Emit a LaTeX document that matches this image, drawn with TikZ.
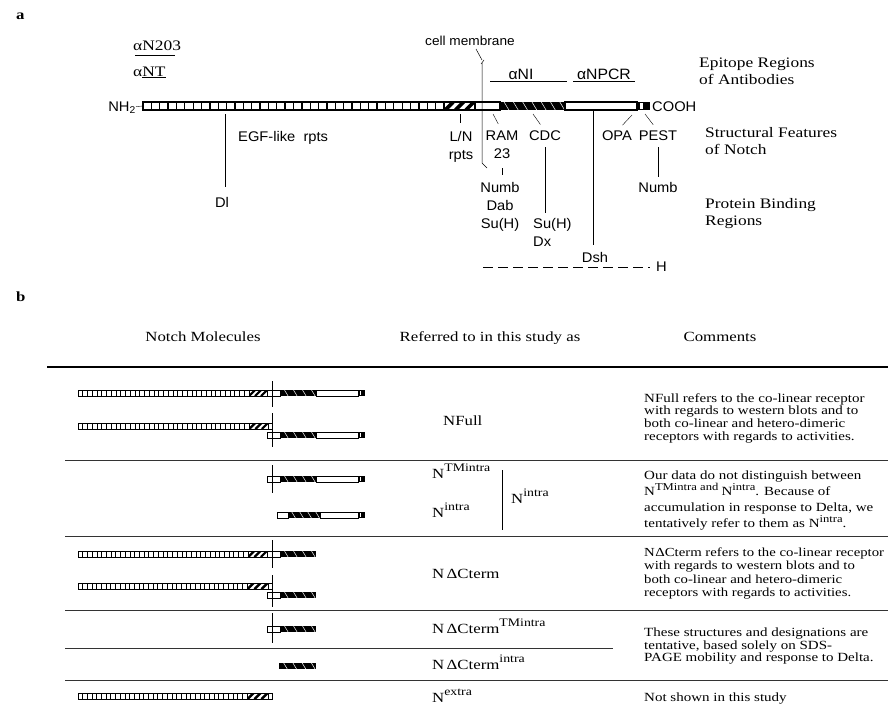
\documentclass[tikz,border=0pt]{standalone}
\usepackage{fontspec}
\setmainfont{Liberation Serif}[FakeStretch=1.2]
\setsansfont{Liberation Sans}[FakeStretch=1.05]

% raised labels (superscripts) for names and for comments
\newcommand{\hi}[1]{\raisebox{0.45em}{\fontsize{11.5}{12}\selectfont #1}}
\newcommand{\hic}[1]{\raisebox{0.42em}{\fontsize{10.5}{11}\selectfont #1}}

% bar height (half) and outline width of the Notch bars
\newcommand{\bh}{4}
\newcommand{\blw}{1.3}
% plain white segment
\newcommand{\wbox}[3]{\draw[barline, fill=white] (#1,#3-\bh) rectangle (#2,#3+\bh);}
% EGF-like repeats: x1, x2, y, number of repeats
\newcommand{\egf}[4]{%
  \wbox{#1}{#2}{#3}%
  \pgfmathsetmacro{\egfstep}{(#2-#1)/#4}%
  \foreach \k in {1,...,#4}{\draw[barline] (#1+\k*\egfstep,#3-\bh) -- ++(0,2*\bh);}}
% Lin-12/Notch repeats, hatched
\newcommand{\lnrep}[3]{%
  \pgfmathsetmacro{\lnw}{(#2-#1)/8.5}%
  \begin{scope}
    \clip (#1,#3-\bh) rectangle (#2,#3+\bh);
    \fill[white] (#1,#3-\bh) rectangle (#2,#3+\bh);
    \foreach \k in {0,1,2}{\draw[line width=\lnw pt] ({#1+(\k+0.5)*(#2-#1)/3-\bh},#3+\bh) -- ++(2*\bh,-2*\bh);}
  \end{scope}
  \draw[barline] (#1,#3-\bh) rectangle (#2,#3+\bh);}
% cdc10 / ankyrin repeats, black with thin stripes
\newcommand{\cdc}[4]{%
  \fill (#1,#3-\bh) rectangle (#2,#3+\bh);
  \begin{scope}
    \clip (#1,#3-\bh) rectangle (#2,#3+\bh);
    \foreach \k in {1,...,#4}{\draw[white, line width=0.5pt] ({#1+(\k-0.3)*(#2-#1)/#4-0.6*\bh},#3-\bh) -- ++(1.2*\bh,2*\bh);}
  \end{scope}}
% PEST end
\newcommand{\pest}[3]{%
  \fill (#1,#3-\bh) rectangle (#2,#3+\bh);
  \fill[white] ({#1+0.25*(#2-#1)},#3-\bh+0.6) rectangle ({#1+0.45*(#2-#1)},#3+\bh-0.6);}

\begin{document}
\begin{tikzpicture}[x=1pt, y=-1pt,
  lbl/.style={font=\sffamily\fontsize{14}{18}\selectfont, inner sep=0pt, align=center, anchor=north},
  sidelbl/.style={font=\fontsize{14.5}{17}\selectfont, inner sep=0pt, align=left, anchor=north west},
  hdr/.style={font=\fontsize{14}{17}\selectfont, inner sep=0pt, anchor=base},
  mname/.style={font=\fontsize{14}{17}\selectfont, inner sep=0pt, anchor=base west},
  cmt/.style={font=\fontsize{12.5}{12.8}\selectfont, inner sep=0pt, align=left, anchor=north west},
  panel/.style={font=\bfseries\fontsize{14}{16}\selectfont, inner sep=0pt, anchor=base west},
  tk/.style={thin, shorten >=8pt},
  thinline/.style={line width=0.5pt},
  tabrule/.style={line width=0.9pt, black!80},
  barline/.style={line width=\blw pt}]
\useasboundingbox (0,0) rectangle (888,707);

% ---- a: domain map ----
\node[panel] (pa) at (16,19) {a};

% epitope regions
\node[font=\fontsize{14.5}{16}\selectfont, inner sep=0pt, anchor=base west] (n203) at (133,50) {αN203};
\node[font=\fontsize{14.5}{16}\selectfont, inner sep=0pt, anchor=base west] (nt) at (133,76) {α\underline{NT}};
\draw (135,55) -- (175,55);
\node[lbl, font=\sffamily\fontsize{15}{18}\selectfont, anchor=base] (ani) at (521,79.5) {αNI};
\node[lbl, font=\sffamily\fontsize{15}{18}\selectfont, anchor=base] (anpcr) at (604,79.5) {αNPCR};
\draw (490,81.5) -- (567,81.5);
\draw (573,81.5) -- (635,81.5);

% the molecule
\node[lbl, anchor=base east] (nh2) at (136,111.5) {NH\textsubscript{2}};
\coordinate (bar-l) at (143,106);
\draw (nh2) -- (bar-l);
\egf{143}{444}{106}{36}
\lnrep{444}{475}{106}
\wbox{475}{500}{106}
\cdc{500}{565}{106}{7}
\wbox{565}{637}{106}
\pest{637}{650}{106}
\node[lbl, anchor=base west] (cooh) at (652,111.5) {COOH};

% cell membrane
\node[lbl, font=\sffamily\fontsize{13}{16}\selectfont, anchor=base west] (cm) at (425,45) {cell membrane};
\draw[thinline] (476,49) -- (482,60);
\draw[thinline] (481,64) -- (484,60);
\draw[thinline] (482,63) -- (482,163) -- (487,168);

% structural features
\node[lbl, anchor=north west] (egf) at (238,131) {EGF-like~ rpts};
\node[lbl] (ln) at (461,131) {L/N\\rpts};
\node[lbl] (ram) at (502,131) {RAM\\23};
\node[lbl] (lcdc) at (545,131) {CDC};
\node[lbl] (opa) at (617,131) {OPA};
\node[lbl] (pest) at (658,131) {PEST};
\coordinate (ln-t) at (460,114);
\coordinate (ram-t) at (493,114);
\coordinate (cdc-t) at (533,114);
\coordinate (opa-t) at (632,115);
\coordinate (pest-t) at (645,114);
\draw[tk] (ln-t) -- (ln-t |- ln.north);
\draw[tk] (ram-t) -- (ram.north);
\draw[tk] (cdc-t) -- (lcdc.north);
\draw[tk] (opa-t) -- (opa.north);
\draw[tk] (pest-t) -- (pest.north);

% binding partners
\node[lbl] (dl) at (222,197) {Dl};
\node[lbl] (nb1) at (500,182) {Numb\\Dab\\Su(H)};
\node[lbl, anchor=north west, align=left] (sux) at (533,218) {Su(H)\\Dx};
\node[lbl] (dsh) at (595,252) {Dsh};
\node[lbl] (nb2) at (658,182) {Numb};
\node[lbl, anchor=west] (hh) at (656,267) {H};
\coordinate (egf-b) at (225,114);
\coordinate (dsh-t) at (593,110);
\coordinate (h-l) at (483,267);
\draw[thinline, shorten >=10pt] (egf-b) -- (egf-b |- dl.north);
\draw[thin, shorten <=9pt, shorten >=7pt] (ram.south) -- (ram.south |- nb1.north);
\draw[thinline, shorten <=6pt, shorten >=5pt] (lcdc.south) -- (lcdc.south |- sux.north);
\draw[shorten >=7pt] (dsh-t) -- (dsh-t |- dsh.north);
\draw[thinline, shorten <=6pt, shorten >=5pt] (pest.south) -- (pest.south |- nb2.north);
\draw[dash pattern=on 10pt off 5pt, shorten >=6pt] (h-l) -- (hh.west);

% row titles
\node[sidelbl] (epi) at (699,57.5) {Epitope Regions\\of Antibodies};
\node[sidelbl] (sf) at (705,127.5) {Structural Features\\of Notch};
\node[sidelbl] (pbr) at (705,198.5) {Protein Binding\\Regions};

% ---- b: table of Notch forms ----
\node[panel] (pb) at (16,301) {b};
\node[hdr] (hmol) at (203,341) {Notch Molecules};
\node[hdr] (href) at (490,341) {Referred to in this study as};
\node[hdr] (hcom) at (720,341) {Comments};
\draw[line width=2pt] (47,367) -- (888,367);
\foreach \y in {460,536,610,680} \draw[tabrule] (65,\y) -- (888,\y);
\draw[tabrule] (65,648) -- (613,648);

\renewcommand{\bh}{3}
\renewcommand{\blw}{0.75}
% NFull, co-linear and hetero-dimeric
\egf{78}{249}{393}{36} \lnrep{249}{267}{393} \wbox{267}{280}{393}
\cdc{280}{316}{393}{4} \wbox{316}{358}{393} \pest{358}{365}{393}
\draw[thick] (272,381) -- (272,407);
\egf{78}{249}{426}{36} \lnrep{249}{268}{426} \wbox{268}{272}{426}
\wbox{267}{280}{435} \cdc{280}{316}{435}{4} \wbox{316}{358}{435} \pest{358}{365}{435}
\draw[thick] (272,413) -- (272,447);
% NTMintra and Nintra
\wbox{267}{280}{479} \cdc{280}{316}{479}{4} \wbox{316}{358}{479} \pest{358}{365}{479}
\draw[thick] (272,465) -- (272,493);
\wbox{277}{288}{515} \cdc{288}{320}{515}{4} \wbox{320}{358}{515} \pest{358}{365}{515}
% NdCterm
\egf{78}{248}{554}{36} \lnrep{248}{267}{554} \wbox{267}{280}{554} \cdc{280}{316}{554}{4}
\draw[thick] (272,540) -- (272,568);
\egf{78}{247}{586}{36} \lnrep{247}{268}{586} \wbox{268}{272}{586}
\wbox{267}{280}{595} \cdc{280}{316}{595}{4}
\draw[thick] (272,575) -- (272,607);
% NdCterm TMintra / intra
\wbox{267}{280}{629} \cdc{280}{316}{629}{4}
\draw[thick] (272,613) -- (272,643);
\cdc{279}{316}{666}{4}
% Nextra
\egf{78}{247}{696}{36} \lnrep{247}{268}{696} \wbox{268}{272}{696}

% names
\node[mname] (nfull) at (443,425) {NFull};
\node[mname] (ntm) at (432,478) {N\hi{TMintra}};
\node[mname] (nin) at (432,517) {N\hi{intra}};
\node[mname] (nin2) at (511,503) {N\hi{intra}};
\draw (502,470) -- (502,530);
\node[mname] (ndc) at (432,578) {N\,ΔCterm};
\node[mname] (ndctm) at (432,633) {N\,ΔCterm\hi{TMintra}};
\node[mname] (ndcin) at (432,669) {N\,ΔCterm\hi{intra}};
\node[mname] (nex) at (432,702) {N\hi{extra}};

% comments
\node[cmt] (c1) at (644,393) {NFull refers to the co-linear receptor\\with regards to western blots and to\\both co-linear and hetero-dimeric\\receptors with regards to activities.};
\node[cmt, font=\fontsize{12.5}{16}\selectfont] (c2) at (644,470.5) {Our data do not distinguish between\\N\hic{TMintra and }N\hic{intra}. Because of\\accumulation in response to Delta, we\\tentatively refer to them as N\hic{intra}.};
\node[cmt, font=\fontsize{12.3}{13.5}\selectfont] (c3) at (644,547.5) {N\kern0.5ptΔCterm refers to the co-linear receptor\\with regards to western blots and to\\both co-linear and hetero-dimeric\\receptors with regards to activities.};
\node[cmt] (c4) at (644,627.5) {These structures and designations are\\tentative, based solely on SDS-\\PAGE mobility and response to Delta.};
\node[cmt] (c5) at (644,692.5) {Not shown in this study};
\end{tikzpicture}
\end{document}
